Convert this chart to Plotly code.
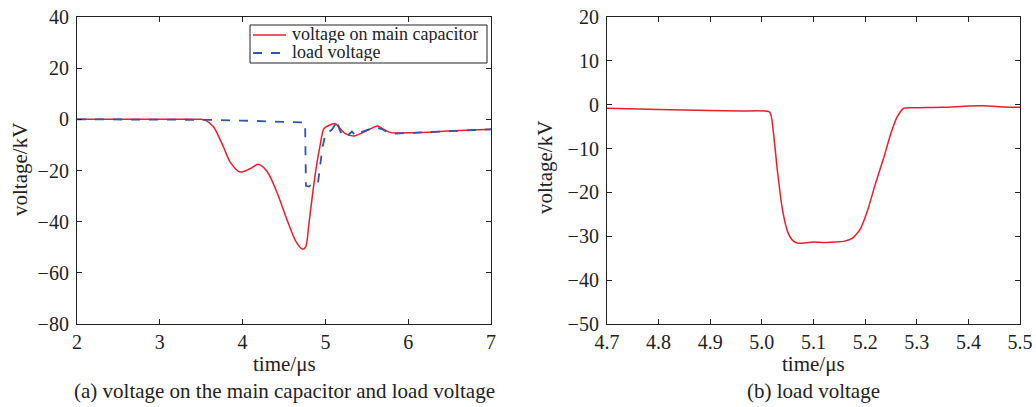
import plotly.graph_objects as go

# ---- data (a) ----
cap_t = [2.0, 3.0, 3.5, 3.55, 3.65, 3.77, 3.85, 3.97, 4.09, 4.19, 4.30, 4.42, 4.54, 4.64, 4.72, 4.76,
         4.80, 4.84, 4.89, 4.94, 4.98, 5.04, 5.12, 5.18, 5.24, 5.35, 5.41, 5.51, 5.63, 5.71, 5.79,
         6.07, 6.48, 7.0]
cap_v = [0.0, 0.0, 0.0, -0.3, -3.0, -10.9, -16.7, -20.6, -19.3, -17.6, -20.6, -29.0, -39.6, -47.5,
         -50.7, -50.0, -41.0, -30.5, -18.7, -9.5, -3.7, -2.4, -1.7, -3.7, -5.6, -6.5, -5.8, -4.3,
         -2.6, -4.0, -5.2, -5.2, -4.6, -3.9]

load_t = [2.0, 3.0, 3.5, 3.6, 4.0, 4.5, 4.73, 4.755, 4.765, 4.8, 4.84, 4.87, 4.91, 4.93, 4.96,
          5.0, 5.04, 5.08, 5.12, 5.14, 5.17, 5.2, 5.24, 5.28, 5.32, 5.37, 5.43, 5.52, 5.61, 5.68,
          5.75, 5.83, 6.07, 6.48, 7.0]
load_v = [0.0, 0.0, 0.0, -0.2, -0.5, -0.8, -1.0, -1.2, -26.0, -26.3, -25.3, -25.6, -25.0, -20.0,
          -12.0, -5.6, -5.0, -4.0, -2.0, -0.4, -4.0, -5.8, -4.8, -6.0, -4.8, -6.5, -5.0, -4.0,
          -3.0, -3.8, -5.0, -5.6, -5.2, -4.6, -3.9]

# ---- data (b) ----
zoom_t = [4.70, 4.80, 4.90, 4.96, 5.015, 5.022, 5.03, 5.04, 5.05, 5.06, 5.07, 5.085, 5.10, 5.12,
          5.14, 5.16, 5.175, 5.19, 5.205, 5.22, 5.235, 5.25, 5.262, 5.275, 5.30, 5.35, 5.40,
          5.43, 5.47, 5.50]
zoom_v = [-0.8, -1.1, -1.3, -1.45, -1.7, -6.0, -15.0, -24.0, -29.0, -31.0, -31.6, -31.5, -31.3,
          -31.4, -31.3, -31.1, -30.5, -28.5, -24.0, -18.0, -12.5, -6.5, -2.8, -0.8, -0.7, -0.6,
          -0.3, -0.25, -0.5, -0.6]

left_xticks = [2, 3, 4, 5, 6, 7]
left_yticks = [40, 20, 0, -20, -40, -60, -80]
right_xticks = [4.7, 4.8, 4.9, 5.0, 5.1, 5.2, 5.3, 5.4, 5.5]
right_yticks = [20, 10, 0, -10, -20, -30, -40, -50]
legend_names = ["voltage on main capacitor", "load voltage"]

RED = "#e8202a"
BLUE = "#2f55ad"
AX = "#222222"
FONT = "Liberation Serif, Times New Roman, serif"
W, H = 1036, 407

fig = go.Figure()
fig.add_trace(go.Scatter(x=cap_t, y=cap_v, mode="lines", name=legend_names[0], showlegend=False,
                         line=dict(color=RED, width=1.5, shape="spline", smoothing=0.8),
                         xaxis="x", yaxis="y"))
fig.add_trace(go.Scatter(x=load_t, y=load_v, mode="lines", name=legend_names[1], showlegend=False,
                         line=dict(color=BLUE, width=1.8, dash="dash"),
                         xaxis="x", yaxis="y"))
fig.add_trace(go.Scatter(x=zoom_t, y=zoom_v, mode="lines", showlegend=False,
                         line=dict(color=RED, width=1.5, shape="spline", smoothing=0.6),
                         xaxis="x2", yaxis="y2"))

def ax(**kw):
    d = dict(showgrid=False, zeroline=False, showline=True, linecolor=AX, linewidth=1.2,
             mirror="ticks", ticks="inside", ticklen=5, tickcolor=AX, tickwidth=1,
             automargin=False, ticklabelstandoff=0,
             tickfont=dict(family=FONT, size=20, color="#222"))
    d.update(kw)
    return d

fig.update_layout(
    width=W, height=H,
    margin=dict(l=0, r=0, t=0, b=0, autoexpand=False),
    paper_bgcolor="white", plot_bgcolor="white",
    font=dict(family=FONT, color="#222"),
    xaxis=ax(domain=[77 / W, 491 / W], range=[2, 7], tickvals=left_xticks,
             anchor="y"),
    yaxis=ax(domain=[1 - 324 / H, 1 - 17 / H], range=[-80, 40], tickvals=left_yticks,
             ticktext=[str(v).replace("-", "\u2212") for v in left_yticks], anchor="x",
             ticklabelstandoff=3),
    xaxis2=ax(domain=[607 / W, 1020 / W], range=[4.7, 5.5], tickvals=right_xticks,
              ticktext=[f"{v:.1f}" for v in right_xticks], anchor="y2"),
    yaxis2=ax(domain=[1 - 324 / H, 1 - 17 / H], range=[-50, 20], tickvals=right_yticks,
              ticktext=[str(v).replace("-", "\u2212") for v in right_yticks], anchor="x2",
              ticklabelstandoff=3),
    showlegend=False,
)

# hand-built legend box (compact, like the reference)
fig.add_shape(type="rect", xref="paper", yref="paper",
              x0=250 / W, x1=487 / W, y0=1 - 63 / H, y1=1 - 25 / H,
              line=dict(color=AX, width=1), fillcolor="white", layer="above")
fig.add_shape(type="line", xref="paper", yref="paper",
              x0=253 / W, x1=286 / W, y0=1 - 35 / H, y1=1 - 35 / H,
              line=dict(color=RED, width=1.5))
fig.add_shape(type="line", xref="paper", yref="paper",
              x0=253 / W, x1=286 / W, y0=1 - 53 / H, y1=1 - 53 / H,
              line=dict(color=BLUE, width=1.8, dash="dash"))
for name, yy in zip(legend_names, [34.5, 52.5]):
    fig.add_annotation(xref="paper", yref="paper", showarrow=False, text=name,
                       x=290 / W, y=1 - yy / H, xanchor="left", yanchor="middle",
                       height=18, valign="middle",
                       font=dict(family=FONT, size=18, color="#222"))

ann = [
    dict(text="voltage/kV", x=20 / W, y=1 - 170 / H, textangle=-90),
    dict(text="voltage/kV", x=545 / W, y=1 - 168 / H, textangle=-90),
    dict(text="time/\u03bcs", x=284 / W, y=1 - 364 / H),
    dict(text="time/\u03bcs", x=813 / W, y=1 - 364 / H),
    dict(text="(a) voltage on the main capacitor and load voltage", x=284 / W, y=1 - 391 / H),
    dict(text="(b) load voltage", x=813 / W, y=1 - 391 / H),
]
for a in ann:
    fig.add_annotation(xref="paper", yref="paper", showarrow=False,
                       xanchor="center", yanchor="middle",
                       font=dict(family=FONT, size=21, color="#222"), **a)

fig.write_html("out.html")
